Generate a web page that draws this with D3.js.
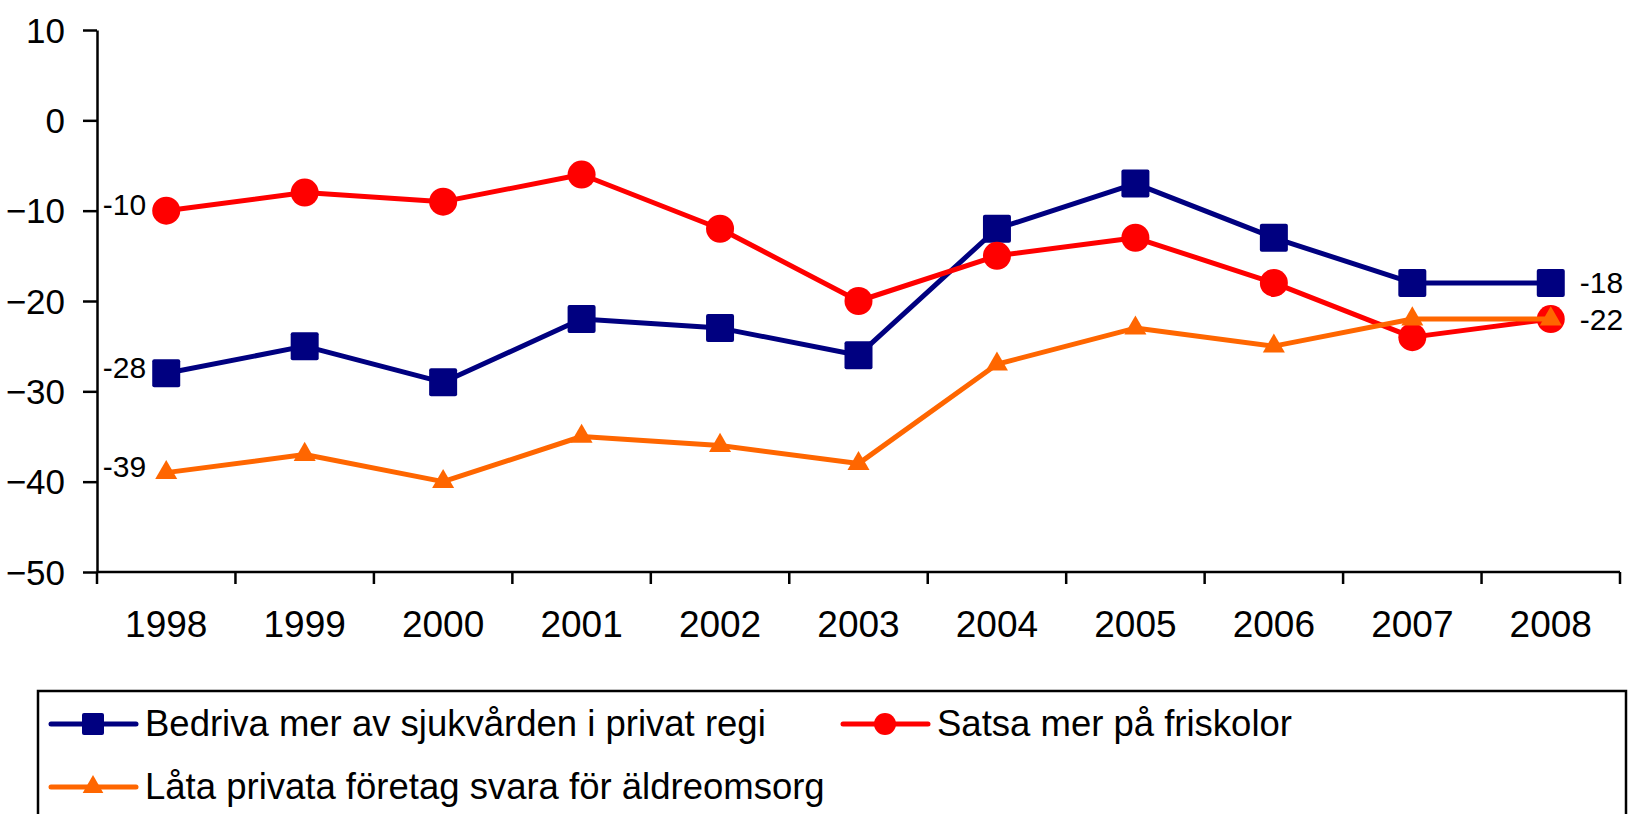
<!DOCTYPE html>
<html>
<head>
<meta charset="utf-8">
<script src="https://cdn.jsdelivr.net/npm/d3@7"></script>
<style>
  body { margin: 0; background: #fff; }
  svg { display: block; font-family: "Liberation Sans", Arial, sans-serif; }
  .axis path, .axis line { stroke: #000; stroke-width: 2.5; }
</style>
</head>
<body>
<script>
const years = ['1998', '1999', '2000', '2001', '2002', '2003', '2004', '2005', '2006', '2007', '2008'];
const sjukvard = [-28, -25, -29, -22, -23, -26, -12, -7, -13, -18, -18];
const friskolor = [-10, -8, -9, -6, -12, -20, -15, -13, -18, -24, -22];
const aldreomsorg = [-39, -37, -40, -35, -36, -38, -27, -23, -25, -22, -22];
const yTicks = [10, 0, -10, -20, -30, -40, -50];

const seriesNames = [
  'Bedriva mer av sjukvården i privat regi',
  'Satsa mer på friskolor',
  'Låta privata företag svara för äldreomsorg'
];

const WIDTH = 1630,
      HEIGHT = 814;

const series = [
  { name: seriesNames[0], values: sjukvard, color: '#000080', marker: 'square' },
  { name: seriesNames[1], values: friskolor, color: '#ff0000', marker: 'circle' },
  { name: seriesNames[2], values: aldreomsorg, color: '#ff6600', marker: 'triangle' }
];

const svg = d3.select('body').append('svg')
  .attr('width', WIDTH)
  .attr('height', HEIGHT);

const x = d3.scaleBand()
  .domain(years)
  .range([97, 1620]);

const y = d3.scaleLinear()
  .domain([-50, 10])
  .range([572, 30]);

// y axis
const yAxis = svg.append('g')
  .attr('class', 'axis')
  .attr('transform', 'translate(97,0)')
  .call(d3.axisLeft(y).tickValues(yTicks).tickSize(14).tickPadding(18).tickSizeOuter(0));
yAxis.selectAll('text')
  .attr('fill', '#000')
  .style('font-size', '35px')
  .attr('dy', '0.35em');

// x axis: ticks sit on the band boundaries
const xAxis = svg.append('g')
  .attr('class', 'axis')
  .attr('transform', `translate(0,${y(-50)})`);
xAxis.append('line')
  .attr('x1', x.range()[0]).attr('x2', x.range()[1]);
const bounds = years.map((d) => x(d)).concat([x.range()[1]]);
xAxis.selectAll('.tick')
  .data(bounds)
  .enter().append('line')
    .attr('x1', (d) => d).attr('x2', (d) => d)
    .attr('y1', 0).attr('y2', 12);
xAxis.selectAll('.year')
  .data(years)
  .enter().append('text')
    .attr('x', (d) => x(d) + x.bandwidth() / 2)
    .attr('y', 65)
    .attr('text-anchor', 'middle')
    .style('font-size', '37px')
    .text((d) => d);

const cx = (i) => x(years[i]) + x.bandwidth() / 2;

const line = d3.line()
  .x((d, i) => cx(i))
  .y((d) => y(d));

function drawMarker(sel, type, color, big) {
  if (type === 'square') {
    const s = big ? 28 : 22;
    sel.append('rect')
      .attr('x', -s / 2).attr('y', -s / 2)
      .attr('width', s).attr('height', s)
      .attr('rx', 2)
      .attr('fill', color);
  } else if (type === 'circle') {
    sel.append('circle')
      .attr('r', big ? 14 : 11)
      .attr('fill', color);
  } else {
    sel.append('path')
      .attr('d', d3.symbol().type(d3.symbolTriangle).size(big ? 210 : 185)())
      .attr('fill', color);
  }
}

series.forEach((s) => {
  svg.append('path')
    .datum(s.values)
    .attr('fill', 'none')
    .attr('stroke', s.color)
    .attr('stroke-width', 5)
    .attr('stroke-linejoin', 'round')
    .attr('d', line);

  svg.selectAll(null)
    .data(s.values)
    .enter().append('g')
      .attr('transform', (d, i) => `translate(${cx(i)},${y(d)})`)
      .each(function () { drawMarker(d3.select(this), s.marker, s.color, true); });
});

// value labels: first point on the left, last point on the right
const labels = svg.append('g').style('font-size', '30px').attr('fill', '#000');
series.forEach((s) => {
  const first = s.values[0];
  labels.append('text')
    .attr('x', cx(0) - 20)
    .attr('y', y(first) - 6)
    .attr('dy', '0.35em')
    .attr('text-anchor', 'end')
    .text(first);
});
[series[0], series[1]].forEach((s) => {
  const n = s.values.length - 1;
  const last = s.values[n];
  labels.append('text')
    .attr('x', cx(n) + 29)
    .attr('y', y(last))
    .attr('dy', '0.35em')
    .attr('text-anchor', 'start')
    .text(last);
});

// legend
const legend = svg.append('g');
legend.append('rect')
  .attr('x', 38).attr('y', 691)
  .attr('width', 1588).attr('height', 160)
  .attr('fill', 'none')
  .attr('stroke', '#000')
  .attr('stroke-width', 2.5);

const legendPos = [
  { x: 51, y: 724 },
  { x: 843, y: 724 },
  { x: 51, y: 787 }
];

series.forEach((s, i) => {
  const p = legendPos[i];
  const g = legend.append('g').attr('transform', `translate(${p.x},${p.y})`);
  g.append('line')
    .attr('x1', 0).attr('x2', 85)
    .attr('stroke', s.color)
    .attr('stroke-width', 5)
    .attr('stroke-linecap', 'round');
  const m = g.append('g').attr('transform', 'translate(42,0)');
  drawMarker(m, s.marker, s.color, false);
  g.append('text')
    .attr('x', 94)
    .attr('y', 12)
    .style('font-size', '36.5px')
    .text(s.name);
});
</script>
</body>
</html>
